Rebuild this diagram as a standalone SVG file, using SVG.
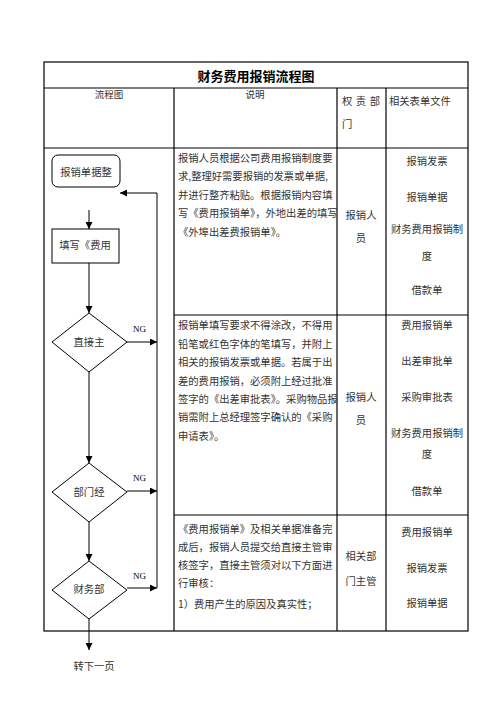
<svg xmlns="http://www.w3.org/2000/svg" width="496" height="702" viewBox="0 0 496 702">
<defs>
<style>
.t{font-family:"Noto Sans CJK SC","Noto Sans",sans-serif;font-size:10.3px;fill:#333}
.c{text-anchor:middle}
.h{font-size:9.5px}
.title{font-family:"Noto Sans CJK SC",sans-serif;font-size:13px;font-weight:bold;fill:#000;text-anchor:middle}
.grid{stroke:#000;stroke-width:1.2;fill:none}
.shape{stroke:#000;stroke-width:1;fill:#fff}
.ln{stroke:#000;stroke-width:1;fill:none}
.ng{font-family:"Liberation Serif",serif;font-size:9px;fill:#000}
</style>
<marker id="ah" viewBox="0 0 10 10" refX="10" refY="5" markerWidth="7" markerHeight="7" orient="auto" markerUnits="userSpaceOnUse">
<path d="M0,0 L10,5 L0,10 z" fill="#000"/>
</marker>
</defs>
<rect width="496" height="702" fill="#fff"/>
<g id="table">
<rect class="grid" x="44" y="62" width="424" height="569"/>
<line class="grid" x1="44" y1="88" x2="468" y2="88"/>
<line class="grid" x1="44" y1="148" x2="468" y2="148"/>
<line class="grid" x1="174" y1="88" x2="174" y2="631"/>
<line class="grid" x1="337" y1="88" x2="337" y2="631"/>
<line class="grid" x1="386" y1="88" x2="386" y2="631"/>
<line class="grid" x1="174" y1="315" x2="468" y2="315"/>
<line class="grid" x1="174" y1="515" x2="468" y2="515"/>
<text class="title" x="256" y="81">财务费用报销流程图</text>
<text class="t h c" x="109" y="98">流程图</text>
<text class="t h c" x="255" y="98">说明</text>
<text class="t" x="342" y="105" textLength="38" lengthAdjust="spacing">权 责 部</text>
<text class="t" x="342" y="128">门</text>
<text class="t" x="389" y="105">相关表单文件</text>
</g>
<g id="row1">
<text class="t" x="178"><tspan x="178" y="162">报销人员根据公司费用报销制度要</tspan><tspan x="178" y="180">求,整理好需要报销的发票或单据,</tspan><tspan x="178" y="199">并进行整齐粘贴。根据报销内容填</tspan><tspan x="178" y="217">写《费用报销单》，外地出差的填写</tspan><tspan x="178" y="236">《外埠出差费报销单》。</tspan></text>
<text class="t c" x="361" y="219">报销人</text>
<text class="t c" x="361" y="242">员</text>
<text class="t c" x="427" y="165">报销发票</text>
<text class="t c" x="427" y="201">报销单据</text>
<text class="t c" x="427" y="233">财务费用报销制</text>
<text class="t c" x="427" y="260">度</text>
<text class="t c" x="427" y="294">借款单</text>
</g>
<g id="row2">
<text class="t" x="178"><tspan x="178" y="329">报销单填写要求不得涂改，不得用</tspan><tspan x="178" y="348">铅笔或红色字体的笔填写，并附上</tspan><tspan x="178" y="366">相关的报销发票或单据。若属于出</tspan><tspan x="178" y="385">差的费用报销，必须附上经过批准</tspan><tspan x="178" y="403">签字的《出差审批表》。采购物品报</tspan><tspan x="178" y="421">销需附上总经理签字确认的《采购</tspan><tspan x="178" y="440">申请表》。</tspan></text>
<text class="t c" x="361" y="401">报销人</text>
<text class="t c" x="361" y="424">员</text>
<text class="t c" x="427" y="329">费用报销单</text>
<text class="t c" x="427" y="365">出差审批单</text>
<text class="t c" x="427" y="401">采购审批表</text>
<text class="t c" x="427" y="437">财务费用报销制</text>
<text class="t c" x="427" y="458">度</text>
<text class="t c" x="427" y="495">借款单</text>
</g>
<g id="row3">
<text class="t" x="178"><tspan x="178" y="533">《费用报销单》及相关单据准备完</tspan><tspan x="178" y="551">成后，报销人员提交给直接主管审</tspan><tspan x="178" y="569">核签字，直接主管须对以下方面进</tspan><tspan x="178" y="587">行审核：</tspan><tspan x="178" y="608">1）费用产生的原因及真实性；</tspan></text>
<text class="t c" x="361" y="560">相关部</text>
<text class="t c" x="361" y="585">门主管</text>
<text class="t c" x="427" y="536">费用报销单</text>
<text class="t c" x="427" y="572">报销发票</text>
<text class="t c" x="427" y="607">报销单据</text>
</g>
<g id="connectors">
<line class="ln" x1="89" y1="210" x2="89" y2="229" marker-end="url(#ah)"/>
<line class="ln" x1="89" y1="263" x2="89" y2="313" marker-end="url(#ah)"/>
<line class="ln" x1="89" y1="372" x2="89" y2="463" marker-end="url(#ah)"/>
<line class="ln" x1="89" y1="522" x2="89" y2="561" marker-end="url(#ah)"/>
<line class="ln" x1="89" y1="619" x2="89" y2="650" marker-end="url(#ah)"/>
<line class="ln" x1="127" y1="342" x2="157" y2="342" marker-end="url(#ah)"/>
<line class="ln" x1="127" y1="491" x2="157" y2="491" marker-end="url(#ah)"/>
<line class="ln" x1="127" y1="588" x2="157" y2="588" marker-end="url(#ah)"/>
<polyline class="ln" points="157,588 157,193 120,193" marker-end="url(#ah)"/>
<text class="ng" x="133" y="332">NG</text>
<text class="ng" x="133" y="481">NG</text>
<text class="ng" x="133" y="579">NG</text>
</g>
<g id="n_start">
<rect class="shape" x="52" y="155" width="68" height="32" rx="6"/>
<text class="t c" x="86" y="176">报销单据整</text>
</g>
<g id="n_fill">
<rect class="shape" x="52" y="229" width="67" height="34"/>
<text class="t c" x="85" y="249">填写《费用</text>
</g>
<g id="n_d1">
<polygon class="shape" points="89,313 127,342 89,372 52,342"/>
<text class="t c" x="89" y="346">直接主</text>
</g>
<g id="n_d2">
<polygon class="shape" points="89,463 127,492 89,522 52,492"/>
<text class="t c" x="89" y="496">部门经</text>
</g>
<g id="n_d3">
<polygon class="shape" points="89,561 127,590 89,619 52,590"/>
<text class="t c" x="89" y="593">财务部</text>
</g>
<g id="n_next">
<text class="t c" x="94" y="670">转下一页</text>
</g>
</svg>
